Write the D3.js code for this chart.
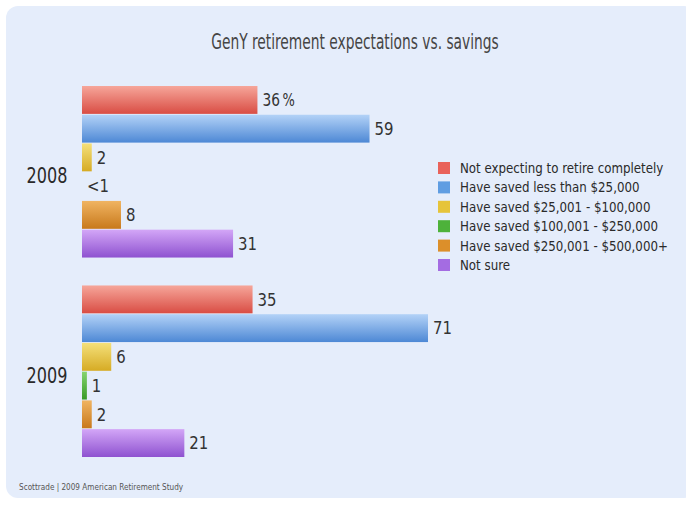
<!DOCTYPE html>
<html>
<head>
<meta charset="utf-8">
<script src="https://cdn.jsdelivr.net/npm/d3@7"></script>
<style>
  html, body { margin: 0; padding: 0; background: #ffffff; }
  svg { display: block; }
</style>
</head>
<body>
<svg id="chart" width="686" height="506"></svg>
<script>
// GenY retirement expectations vs. savings (percent of respondents)
const years = ["2008", "2009"];
const seriesNames = [
  "Not expecting to retire completely",
  "Have saved less than $25,000",
  "Have saved $25,001 - $100,000",
  "Have saved $100,001 - $250,000",
  "Have saved $250,001 - $500,000+",
  "Not sure"
];
const values2008 = [36, 59, 2, 0, 8, 31];
const values2009 = [35, 71, 6, 1, 2, 21];
const labels2008 = ["36", "59", "2", "<1", "8", "31"];
const labels2009 = ["35", "71", "6", "1", "2", "21"];
const title = "GenY retirement expectations vs. savings";
const sourceNote = "Scottrade  |  2009 American Retirement Study";

const colorsTop = ["#f6a69a", "#b3d2f7", "#f4e07a", "#86d46f", "#f0b462", "#d3a6f7"];
const colorsBottom = ["#d94d44", "#4d88d5", "#d6ab24", "#379a27", "#c8791b", "#8e52d0"];
const colorsFlat = ["#e9625a", "#5f9de2", "#e6c43a", "#4db23a", "#dc8f2a", "#a46ce2"];

const byYear = { "2008": values2008, "2009": values2009 };
const labelsByYear = { "2008": labels2008, "2009": labels2009 };

const narrow = "'DejaVu Sans Condensed', 'DejaVu Sans', sans-serif";
const svg = d3.select("#chart");

// condense a text horizontally by a factor of its natural width
function condense(sel, factor) {
  sel.each(function () {
    const w = this.getComputedTextLength();
    d3.select(this)
      .attr("textLength", w * factor)
      .attr("lengthAdjust", "spacingAndGlyphs");
  });
}

// panel background
svg.append("rect")
  .attr("x", 6).attr("y", 6).attr("width", 690).attr("height", 492)
  .attr("rx", 12).attr("ry", 12)
  .attr("fill", "#e5edfb");

// vertical gradients for the bars
const defs = svg.append("defs");
seriesNames.forEach((s, i) => {
  const g = defs.append("linearGradient")
    .attr("id", "grad" + i).attr("x1", 0).attr("y1", 0).attr("x2", 0).attr("y2", 1);
  g.append("stop").attr("offset", "0%").attr("stop-color", colorsTop[i]);
  g.append("stop").attr("offset", "100%").attr("stop-color", colorsBottom[i]);
});

// title
svg.append("text")
  .attr("x", 355).attr("y", 49)
  .attr("text-anchor", "middle")
  .attr("font-family", narrow)
  .attr("font-size", 21)
  .attr("fill", "#454545")
  .text(title)
  .call(condense, 0.73);

// scales
const x = d3.scaleLinear().domain([0, 71]).range([82, 428]);
const y0 = d3.scaleBand().domain(years).range([86, 457]).paddingInner(0.14);
const y1 = d3.scaleBand().domain(d3.range(seriesNames.length))
  .range([0, y0.bandwidth()]).paddingInner(0.03);

const groups = svg.selectAll("g.year")
  .data(years).join("g")
  .attr("class", "year")
  .attr("transform", d => `translate(0,${y0(d)})`);

groups.selectAll("rect")
  .data(yr => byYear[yr].map((v, i) => ({ v, i })))
  .join("rect")
  .attr("x", x(0))
  .attr("y", d => y1(d.i))
  .attr("width", d => x(d.v) - x(0))
  .attr("height", y1.bandwidth())
  .attr("fill", d => `url(#grad${d.i})`);

groups.selectAll("text.val")
  .data(yr => byYear[yr].map((v, i) => ({ v, i, yr, lab: labelsByYear[yr][i] })))
  .join("text")
  .attr("class", "val")
  .attr("x", d => x(d.v) + 5)
  .attr("y", d => y1(d.i) + y1.bandwidth() / 2)
  .attr("dy", "0.35em")
  .attr("font-family", narrow)
  .attr("font-size", 18)
  .attr("fill", "#333")
  .each(function (d) {
    const t = d3.select(this);
    t.append("tspan").text(d.lab);
    if (d.yr === "2008" && d.i === 0) {
      t.append("tspan").attr("dx", 3).attr("font-size", 17).text("%");
    }
  })
  .call(condense, 0.92);

// year labels
groups.append("text")
  .attr("x", 47)
  .attr("y", y0.bandwidth() / 2 + 4)
  .attr("dy", "0.35em")
  .attr("text-anchor", "middle")
  .attr("font-family", narrow)
  .attr("font-size", 21)
  .attr("fill", "#2a2a2a")
  .text(d => d)
  .call(condense, 0.85);

// legend
const legend = svg.append("g").attr("transform", "translate(438,168)");
const rows = legend.selectAll("g")
  .data(seriesNames).join("g")
  .attr("transform", (d, i) => `translate(0,${i * 19.4})`);
rows.append("rect")
  .attr("x", 0).attr("y", -6).attr("width", 12).attr("height", 12)
  .attr("fill", (d, i) => colorsFlat[i]);
rows.append("text")
  .attr("x", 22).attr("y", 0).attr("dy", "0.35em")
  .attr("font-family", narrow)
  .attr("font-size", 14)
  .attr("fill", "#2a2a2a")
  .text(d => d)
  .call(condense, 0.94);

// source note
svg.append("text")
  .attr("x", 19).attr("y", 490)
  .attr("font-family", narrow)
  .attr("font-size", 9)
  .attr("fill", "#555")
  .text(sourceNote)
  .call(condense, 0.9);
</script>
</body>
</html>
